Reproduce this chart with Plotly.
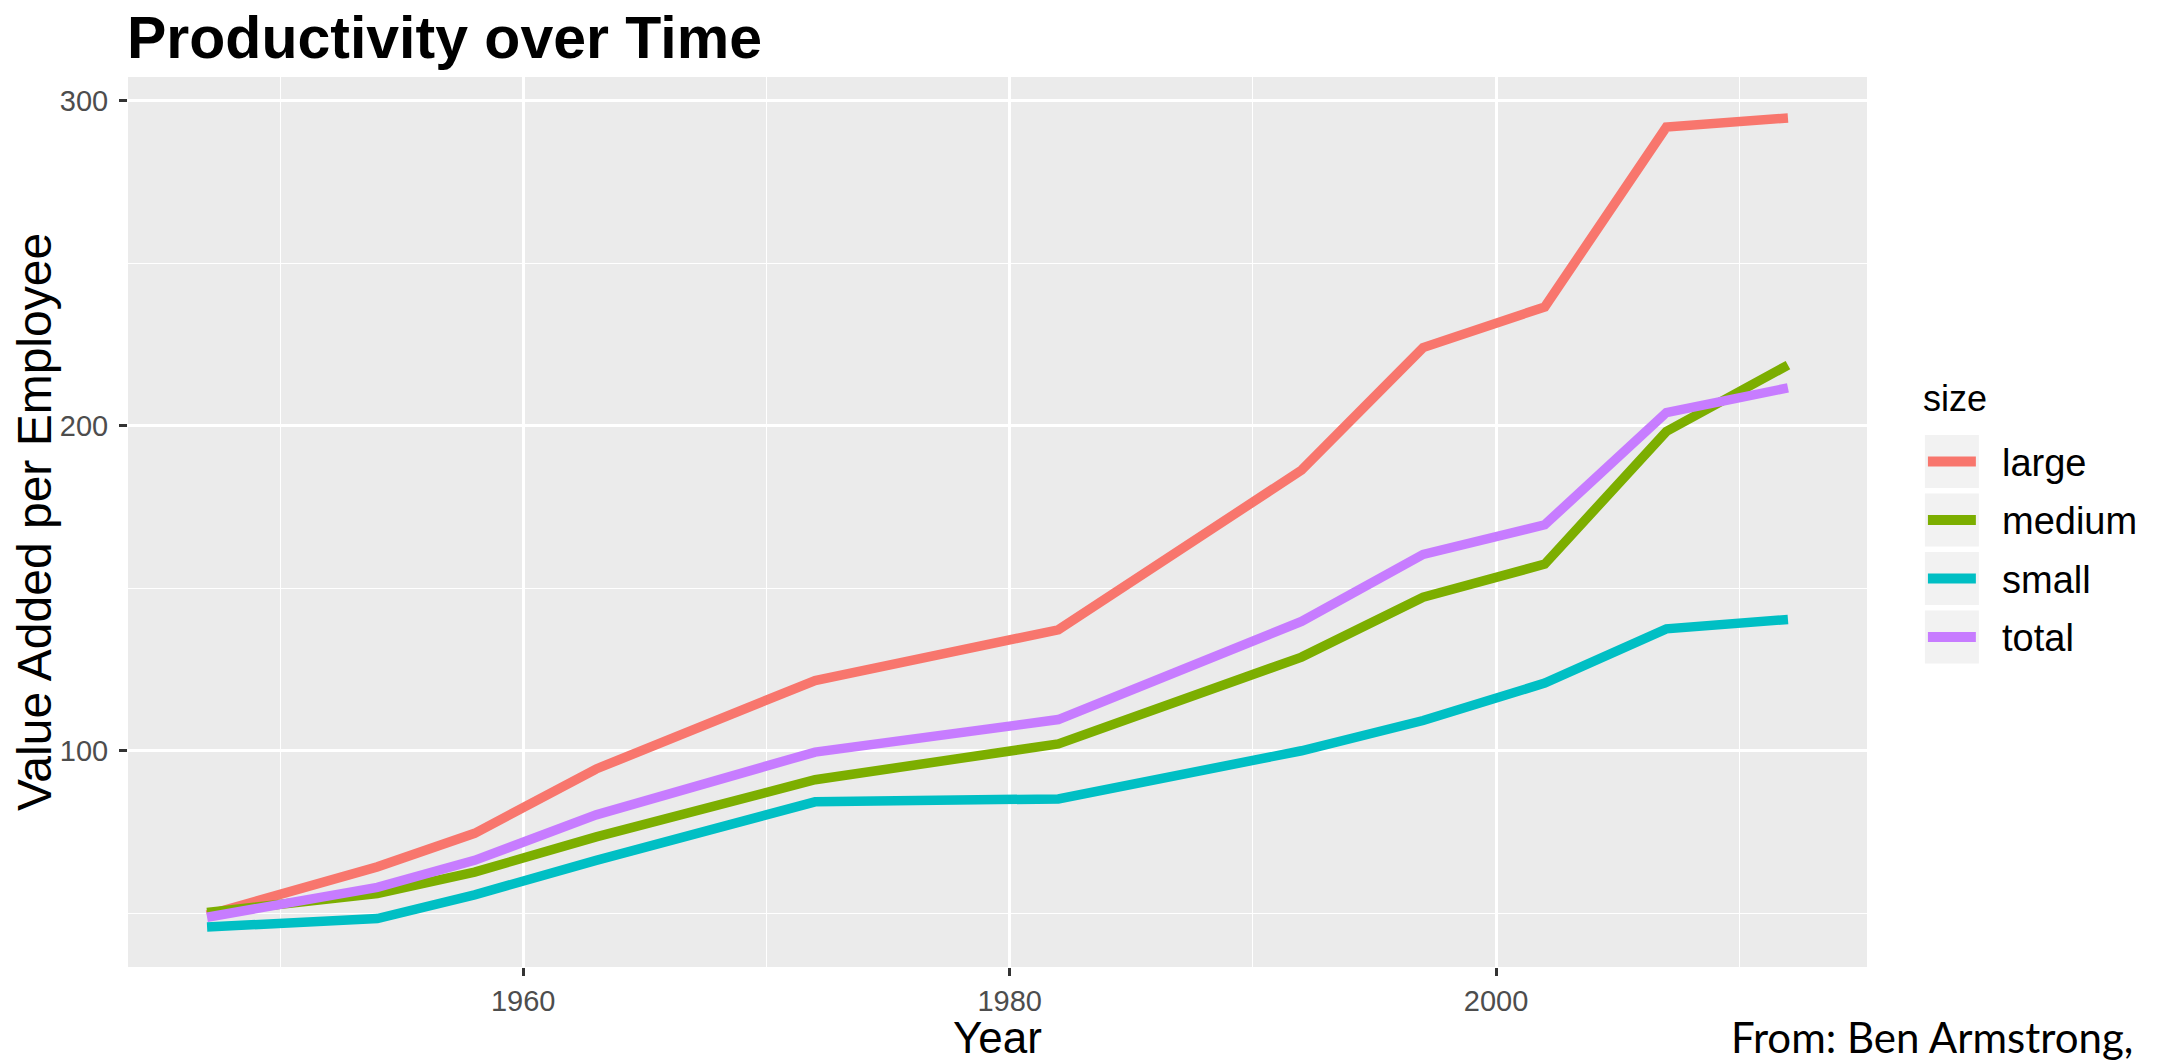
import plotly.graph_objects as go

# ---- data ----
years = [1947, 1954, 1958, 1963, 1972, 1982, 1992, 1997, 2002, 2007, 2012]
large = [49.5, 64.3, 74.6, 94.4, 121.6, 137.2, 186.3, 224.0, 236.5, 291.8, 294.6]
medium = [50.3, 56.1, 62.7, 73.5, 91.1, 102.1, 128.8, 147.2, 157.4, 198.2, 218.6]
small = [45.8, 48.4, 55.7, 66.3, 84.3, 85.2, 100.0, 109.3, 120.8, 137.5, 140.4]
total = [48.8, 58.0, 66.3, 80.3, 99.6, 109.6, 139.8, 160.4, 169.5, 204.0, 211.6]

series_names = ["large", "medium", "small", "total"]
series_values = [large, medium, small, total]
series_colors = ["#F8766D", "#7CAE00", "#00BFC4", "#C77CFF"]

x_ticks = [1960, 1980, 2000]
y_ticks = [100, 200, 300]

title_text = "Productivity over Time"
x_title = "Year"
y_title = "Value Added per Employee"
legend_title = "size"
source_text = "From: Ben Armstrong,"

# ---- geometry (screen pixels; the page body adds an 8px offset) ----
SCREEN_W, SCREEN_H = 2157, 1063
OFF = 8
W, H = SCREEN_W - OFF, SCREEN_H - OFF
L, R, T, B = 126, 1867, 77, 967          # plot panel edges on screen
FONT = "Liberation Sans, Arial, Helvetica, sans-serif"


def px_x(X):
    return (X - L) / (R - L)


def px_y(Y):
    return (B - Y) / (B - T)


fig = go.Figure()
for name, vals, col in zip(series_names, series_values, series_colors):
    fig.add_trace(go.Scatter(x=years, y=vals, mode="lines", name=name,
                             line=dict(color=col, width=9.5),
                             showlegend=False))

axis_common = dict(
    showgrid=True, gridcolor="white", gridwidth=2.7,
    zeroline=False, showline=False,
    ticks="outside", ticklen=8, tickwidth=2.7, tickcolor="#333333",
    tickfont=dict(family=FONT, size=29, color="#4D4D4D"),
)

fig.update_xaxes(
    range=[1943.75, 2015.25], tickvals=x_ticks,
    minor=dict(tickvals=[1950, 1970, 1990, 2010], showgrid=True,
               gridcolor="white", gridwidth=1.3, ticks=""),
    ticklabelstandoff=0,
    **axis_common)
fig.update_yaxes(
    range=[33.5, 307.2], tickvals=y_ticks,
    minor=dict(tickvals=[50, 150, 250], showgrid=True,
               gridcolor="white", gridwidth=1.3, ticks=""),
    title=dict(text=y_title, font=dict(family=FONT, size=48, color="black"),
               standoff=6),
    ticklabelstandoff=5,
    **axis_common)

# ---- custom legend (ggplot-style keys) ----
shapes = []
annotations = []
box_left, box_right = 1925, 1979
first_top, box_h, pitch = 435, 53, 58.5
for i, (name, col) in enumerate(zip(series_names, series_colors)):
    top = first_top + i * pitch
    bot = top + box_h
    cy = (top + bot) / 2
    shapes.append(dict(type="rect", xref="paper", yref="paper",
                       x0=px_x(box_left), x1=px_x(box_right),
                       y0=px_y(bot), y1=px_y(top),
                       fillcolor="#F2F2F2", line=dict(width=0), layer="above"))
    shapes.append(dict(type="line", xref="paper", yref="paper",
                       x0=px_x(1928), x1=px_x(1976), y0=px_y(cy), y1=px_y(cy),
                       line=dict(color=col, width=10), layer="above"))
    annotations.append(dict(text=name, xref="paper", yref="paper",
                            x=px_x(2000), y=px_y(cy + 1), xanchor="left",
                            yanchor="middle", showarrow=False,
                            font=dict(family=FONT, size=38, color="black")))

annotations.append(dict(text=legend_title, xref="paper", yref="paper",
                        x=px_x(1921), y=px_y(398), xanchor="left",
                        yanchor="middle", showarrow=False,
                        font=dict(family=FONT, size=36, color="black")))

# x-axis title, placed at the bottom of the page as in the reference
annotations.append(dict(text=x_title, xref="paper", yref="paper",
                        x=0.5, y=px_y(SCREEN_H), xanchor="center",
                        yanchor="bottom", showarrow=False, borderpad=0,
                        font=dict(family=FONT, size=44, color="black")))

annotations.append(dict(text=source_text, xref="paper", yref="paper",
                        x=px_x(1730), y=px_y(SCREEN_H), xanchor="left",
                        yanchor="bottom", showarrow=False, borderpad=0,
                        font=dict(family="Lato, Carlito, sans-serif", size=42,
                                  color="black")))

fig.update_layout(
    width=W, height=H,
    margin=dict(l=L - OFF, r=SCREEN_W - R, t=T - OFF, b=SCREEN_H - B, pad=0),
    paper_bgcolor="white", plot_bgcolor="#EBEBEB",
    title=dict(text=title_text, x=(127 - OFF) / W, xref="container",
               xanchor="left", y=1 - (37 - OFF) / H, yref="container",
               yanchor="middle",
               font=dict(family=FONT, size=59, color="black", weight="bold")),
    shapes=shapes, annotations=annotations,
    showlegend=False,
)

fig.write_html("out.html")
